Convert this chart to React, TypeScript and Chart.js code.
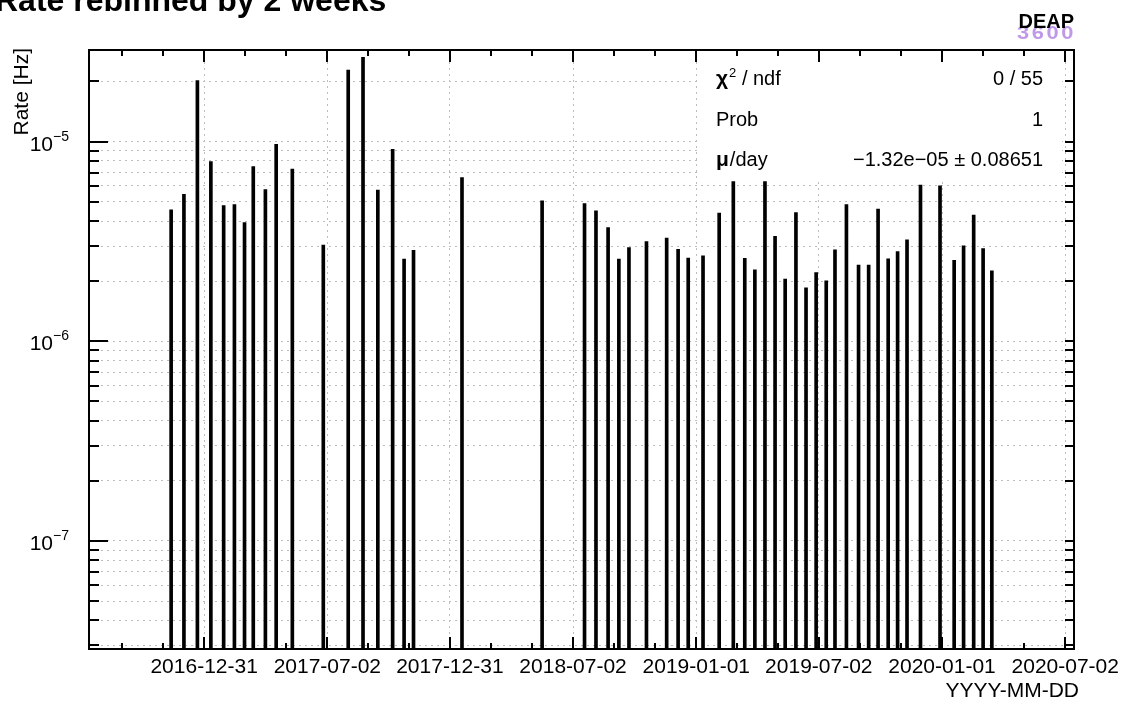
import React, { useEffect, useRef } from "react";
import { Chart, registerables } from "chart.js";

Chart.register(...registerables);

// Bin centres (two-week bins) and the measured rate in each bin [Hz]
const binDates = [
  "2016-11-12", "2016-12-01", "2016-12-21", "2017-01-10", "2017-01-29", "2017-02-14",
  "2017-03-01", "2017-03-14", "2017-04-01", "2017-04-17", "2017-05-11", "2017-06-26",
  "2017-08-02", "2017-08-24", "2017-09-15", "2017-10-07", "2017-10-24", "2017-11-07",
  "2018-01-18", "2018-05-17", "2018-07-19", "2018-08-05", "2018-08-23", "2018-09-08",
  "2018-09-23", "2018-10-19", "2018-11-18", "2018-12-05", "2018-12-20", "2019-01-11",
  "2019-02-04", "2019-02-25", "2019-03-14", "2019-03-29", "2019-04-13", "2019-04-28",
  "2019-05-13", "2019-05-29", "2019-06-13", "2019-06-28", "2019-07-13", "2019-07-26",
  "2019-08-12", "2019-08-30", "2019-09-14", "2019-09-28", "2019-10-13", "2019-10-27",
  "2019-11-10", "2019-11-30", "2019-12-29", "2020-01-19", "2020-02-02", "2020-02-17",
  "2020-03-02", "2020-03-15",
];

const rates = [
  4.55e-6, 5.45e-6, 2.02e-5, 7.94e-6, 4.78e-6, 4.84e-6,
  3.93e-6, 7.5e-6, 5.75e-6, 9.7e-6, 7.28e-6, 3.03e-6,
  2.28e-5, 2.64e-5, 5.71e-6, 9.16e-6, 2.58e-6, 2.85e-6,
  6.61e-6, 5.05e-6, 4.89e-6, 4.5e-6, 3.71e-6, 2.58e-6,
  2.95e-6, 3.16e-6, 3.29e-6, 2.89e-6, 2.61e-6, 2.68e-6,
  4.38e-6, 6.31e-6, 2.6e-6, 2.28e-6, 6.31e-6, 3.35e-6,
  2.05e-6, 4.41e-6, 1.85e-6, 2.21e-6, 2.01e-6, 2.87e-6,
  4.84e-6, 2.41e-6, 2.41e-6, 4.59e-6, 2.59e-6, 2.81e-6,
  3.22e-6, 6.05e-6, 6.0e-6, 2.54e-6, 3.01e-6, 4.28e-6,
  2.91e-6, 2.25e-6,
];

// Time axis: labelled ticks and the visible range
const majorTickDates = [
  "2016-12-31", "2017-07-02", "2017-12-31", "2018-07-02",
  "2019-01-01", "2019-07-02", "2020-01-01", "2020-07-02",
];
const axisStart = "2016-07-13";
const axisEnd = "2020-07-15";

// Rate axis range
const yMin = 2.876e-8;
const yMax = 2.876e-5;

// Fit statistics box
const statSymbols = ["χ", "", "μ"];
const statSuperscripts = ["2", "", ""];
const statNames = [" / ndf", "Prob", "/day"];
const statValues = ["0 / 55", "1", "−1.32e−05 ± 0.08651"];

const titleText = "Rate rebinned by 2 weeks";
const yTitle = "Rate [Hz]";
const xTitle = "YYYY-MM-DD";

const FONT = '"Liberation Sans", Arial, Helvetica, sans-serif';

function dayNum(s: string): number {
  const [y, m, d] = s.split("-").map(Number);
  return Date.UTC(y, m - 1, d) / 86400000;
}

const majorDays = majorTickDates.map(dayNum);
const tickStep = (majorDays[majorDays.length - 1] - majorDays[0]) / (majorDays.length - 1);
const xMinDay = dayNum(axisStart);
const xMaxDay = dayNum(axisEnd);

function minorDays(): number[] {
  const out: number[] = [];
  const first = majorDays[0];
  for (let k = -6; k < majorDays.length * 3 + 3; k++) {
    if (k % 3 === 0) continue;
    const v = first + (k * tickStep) / 3;
    if (v > xMinDay && v < xMaxDay) out.push(v);
  }
  return out;
}

function logTickValues(): number[] {
  const out: number[] = [];
  for (let e = -9; e <= -4; e++) {
    for (let k = 1; k <= 9; k++) {
      const v = k * Math.pow(10, e);
      if (v >= yMin * 0.999 && v <= yMax * 1.001) out.push(v);
    }
  }
  return out;
}

const framePlugin = {
  id: "rootFrame",
  beforeDatasetsDraw(chart: any) {
    const ctx = chart.ctx;
    const { top } = chart.chartArea;
    ctx.save();
    ctx.fillStyle = "#ffffff";
    ctx.fillRect(697, top + 1, 1062 - 697, 179 - top - 1);
    ctx.restore();
  },
  afterDraw(chart: any) {
    const ctx = chart.ctx as CanvasRenderingContext2D;
    const { left, right, top, bottom } = chart.chartArea;
    const xs = chart.scales.x;
    const ys = chart.scales.y;
    ctx.save();
    ctx.strokeStyle = "#000";
    ctx.fillStyle = "#000";
    ctx.lineWidth = 2;
    ctx.lineCap = "butt";

    // x-axis ticks on bottom and top
    ctx.beginPath();
    for (const d of majorDays) {
      const x = Math.round(xs.getPixelForValue(d));
      if (x < left || x > right) continue;
      ctx.moveTo(x, bottom); ctx.lineTo(x, bottom - 12);
      ctx.moveTo(x, top); ctx.lineTo(x, top + 12);
    }
    for (const d of minorDays()) {
      const x = Math.round(xs.getPixelForValue(d));
      ctx.moveTo(x, bottom); ctx.lineTo(x, bottom - 6);
      ctx.moveTo(x, top); ctx.lineTo(x, top + 6);
    }
    // y-axis ticks on left and right
    for (const v of logTickValues()) {
      const y = Math.round(ys.getPixelForValue(v));
      const lg = Math.log10(v);
      const major = Math.abs(lg - Math.round(lg)) < 1e-6;
      ctx.moveTo(left, y); ctx.lineTo(left + (major ? 19 : 10), y);
      ctx.moveTo(right, y); ctx.lineTo(right - 9, y);
    }
    ctx.stroke();

    // frame
    ctx.strokeRect(left, top, right - left, bottom - top);

    // y tick labels 10^n
    for (const v of logTickValues()) {
      const lg = Math.log10(v);
      if (Math.abs(lg - Math.round(lg)) > 1e-6) continue;
      const y = ys.getPixelForValue(v);
      const exp = "−" + String(Math.abs(Math.round(lg)));
      ctx.font = `14px ${FONT}`;
      const ew = ctx.measureText(exp).width;
      ctx.textAlign = "left";
      ctx.textBaseline = "alphabetic";
      ctx.fillText(exp, 69 - ew, y - 1);
      ctx.font = `21px ${FONT}`;
      ctx.textAlign = "right";
      ctx.fillText("10", 69 - ew, y + 9);
    }

    // x tick labels
    ctx.font = `21px ${FONT}`;
    ctx.textAlign = "center";
    ctx.textBaseline = "alphabetic";
    majorTickDates.forEach((lab, i) => {
      ctx.fillText(lab, xs.getPixelForValue(majorDays[i]), 673);
    });
    ctx.textAlign = "right";
    ctx.fillText(xTitle, 1079, 697);

    // y title
    ctx.save();
    ctx.translate(22, top - 2);
    ctx.rotate(-Math.PI / 2);
    ctx.textAlign = "right";
    ctx.textBaseline = "middle";
    ctx.font = `21px ${FONT}`;
    ctx.fillText(yTitle, 0, 0);
    ctx.restore();

    // title (partly above the canvas edge)
    ctx.font = `bold 32px ${FONT}`;
    ctx.textAlign = "left";
    ctx.textBaseline = "alphabetic";
    ctx.fillText(titleText, -5, 11);

    // statistics box text
    const baselines = [85, 125.5, 166];
    for (let i = 0; i < statNames.length; i++) {
      let x = 716;
      const yb = baselines[i];
      ctx.textAlign = "left";
      if (statSymbols[i]) {
        ctx.font = `bold 21px ${FONT}`;
        ctx.fillText(statSymbols[i], x, yb);
        x += ctx.measureText(statSymbols[i]).width + 1;
      }
      if (statSuperscripts[i]) {
        ctx.font = `13px ${FONT}`;
        ctx.fillText(statSuperscripts[i], x, yb - 8);
        x += ctx.measureText(statSuperscripts[i]).width;
      }
      ctx.font = `20px ${FONT}`;
      ctx.fillText(statNames[i], x, yb);
      ctx.textAlign = "right";
      ctx.fillText(statValues[i], 1043, yb);
    }

    // experiment logo
    ctx.font = `bold 19px ${FONT}`;
    ctx.fillStyle = "rgba(180, 135, 228, 0.85)";
    ctx.textAlign = "center";
    const digits = "3600";
    for (let i = 0; i < digits.length; i++) {
      ctx.save();
      ctx.translate(1023 + i * 14.8, 39);
      ctx.scale(1.15, 1);
      ctx.fillText(digits[i], 0, 0);
      ctx.restore();
    }
    ctx.fillStyle = "#000";
    ctx.font = `bold 20px ${FONT}`;
    ctx.textAlign = "right";
    ctx.fillText("DEAP", 1074, 28);

    ctx.restore();
  },
};

export default function App() {
  const canvasRef = useRef<HTMLCanvasElement | null>(null);

  useEffect(() => {
    const canvas = canvasRef.current;
    if (!canvas) return;
    const points = binDates.map((d, i) => ({ x: dayNum(d), y: [yMin, rates[i]] }));
    const gridColor = "#bdbdbd";

    const chart = new Chart(canvas, {
      type: "bar",
      data: {
        datasets: [
          {
            data: points as any,
            backgroundColor: "#000",
            borderWidth: 0,
            barThickness: 3,
            grouped: false,
          } as any,
        ],
      },
      options: {
        animation: false,
        responsive: false,
        devicePixelRatio: 1,
        layout: { padding: { left: 0, top: 50, right: 52, bottom: 0 } },
        plugins: {
          legend: { display: false },
          tooltip: { enabled: false },
          title: { display: false },
        },
        scales: {
          x: {
            type: "linear",
            offset: false,
            min: xMinDay,
            max: xMaxDay,
            afterBuildTicks: (scale: any) => {
              scale.ticks = majorDays.map((v) => ({ value: v }));
            },
            afterFit: (scale: any) => {
              scale.height = 55;
            },
            ticks: { display: false, autoSkip: false },
            grid: { color: gridColor, lineWidth: 1, drawTicks: false, offset: false },
            border: { display: false, dash: [2, 4] },
          },
          y: {
            type: "logarithmic",
            min: yMin,
            max: yMax,
            afterBuildTicks: (scale: any) => {
              scale.ticks = logTickValues().map((v) => ({ value: v }));
            },
            afterFit: (scale: any) => {
              scale.width = 89;
            },
            ticks: { display: false, autoSkip: false },
            grid: { color: gridColor, lineWidth: 1, drawTicks: false },
            border: { display: false, dash: [2, 4] },
          },
        },
      } as any,
      plugins: [framePlugin],
    });

    return () => chart.destroy();
  }, []);

  return (
    <div style={{ position: "absolute", left: 0, top: 0, width: 1126, height: 704, background: "#fff" }}>
      <canvas ref={canvasRef} width={1126} height={704} style={{ display: "block" }} />
    </div>
  );
}
